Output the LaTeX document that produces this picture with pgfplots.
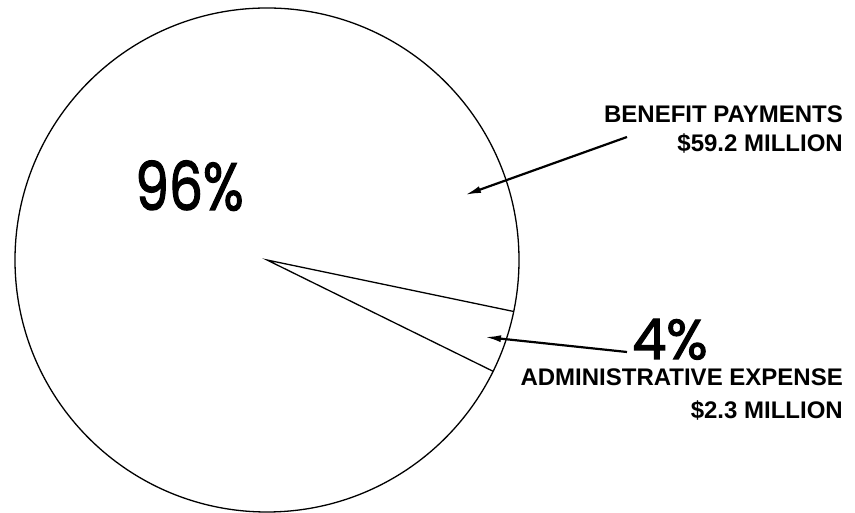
\documentclass[border=0pt]{standalone}
\usepackage{pgfplots}
\pgfplotsset{compat=1.18}
\usepackage{fontspec}
\setmainfont{Liberation Sans}
\newfontfamily\pop{Poppins}[FakeBold=2]
\usetikzlibrary{arrows.meta}
\usepackage{graphicx}
\begin{document}
\begin{tikzpicture}
\begin{axis}[
  scale only axis, width=855pt, height=512pt,
  xmin=0, xmax=855, ymin=0, ymax=512,
  hide axis, clip=false,
]
\path (axis cs:0,0) rectangle (axis cs:855,512);
% pie outline (centre 267,252; radius 252)
\draw[line width=1.3pt] (axis cs:267,252) circle[radius=252];
% 4% wedge (administrative expense): from -11.8 deg to -26.2 deg
\addplot[line width=1.3pt, black, no markers] coordinates {(513.7,200.5) (267,252) (493.1,140.7)};
% arrows
\addplot[line width=2.2pt, black, no markers, -{Latex[length=16pt,width=7pt]}] coordinates {(627,375) (465,317)};
\addplot[line width=2.2pt, black, no markers, -{Latex[length=16pt,width=7pt]}] coordinates {(627,160) (485,175)};
% labels
\node[anchor=base west, inner sep=0pt] at (axis cs:135,302) {\scalebox{0.8}[1]{\fontsize{67}{67}\selectfont\pop 96\%}};
\node[anchor=base west, inner sep=0pt] at (axis cs:632,153) {\scalebox{0.97}[1]{\fontsize{56}{56}\selectfont\pop 4\%}};
\node[anchor=base east, inner sep=0pt] at (axis cs:843,389) {\fontsize{24}{24}\selectfont\bfseries BENEFIT PAYMENTS};
\node[anchor=base east, inner sep=0pt] at (axis cs:843,360) {\fontsize{24}{24}\selectfont\bfseries \$59.2 MILLION};
\node[anchor=base east, inner sep=0pt] at (axis cs:843,126) {\fontsize{24}{24}\selectfont\bfseries ADMINISTRATIVE EXPENSE};
\node[anchor=base east, inner sep=0pt] at (axis cs:843,93) {\fontsize{24}{24}\selectfont\bfseries \$2.3 MILLION};
\end{axis}
\end{tikzpicture}
\end{document}
